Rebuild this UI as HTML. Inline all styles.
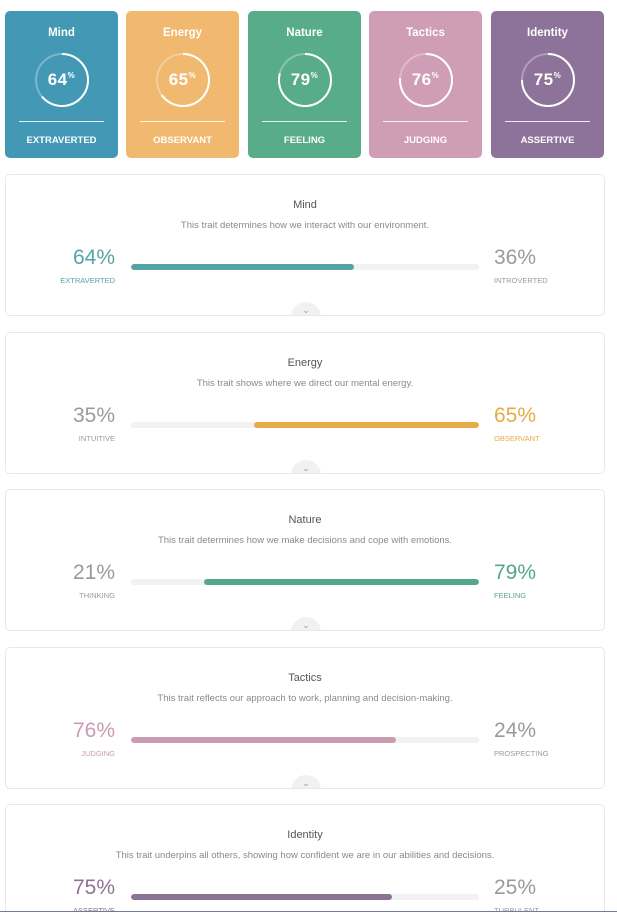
<!DOCTYPE html>
<html style="width:617px;height:916px;overflow:hidden"><head><meta charset="utf-8"><style>
*{margin:0;padding:0;box-sizing:border-box}
body{width:617px;height:916px;overflow:hidden;background:#fff;font-family:"Liberation Sans",sans-serif;position:relative}
.card{position:absolute;top:11px;width:113px;height:147px;border-radius:5px;color:#fff;text-align:center}
.card .t{position:absolute;top:16px;width:100%;font-size:11.5px;font-weight:bold}
.card svg{position:absolute;left:28px;top:40px}
.card .n{position:absolute;top:59px;width:100%;font-size:17px;font-weight:bold;letter-spacing:0.5px}
.card .n sup{font-size:8px;vertical-align:7px}
.card .ln{position:absolute;left:14px;right:14px;top:110px;height:1px;background:rgba(255,255,255,.85)}
.card .l{position:absolute;top:124px;width:100%;font-size:9.5px;font-weight:bold}
.p{position:absolute;left:5px;width:600px;height:142px;border:1px solid #e8e8e8;border-radius:5px;background:#fff;overflow:hidden}
.p .h{position:absolute;top:24px;width:100%;text-align:center;font-size:11px;color:#555}
.p .d{position:absolute;top:45px;width:100%;text-align:center;font-size:9.5px;color:#8a8a8a}
.pl,.pr{position:absolute;top:71px;font-size:21px;color:#9a9a9a;font-weight:300}
.pl{right:489px;text-align:right}.pr{left:488px}
.ll,.lr{position:absolute;top:101px;font-size:7.5px;color:#9a9a9a}
.ll{right:489px;text-align:right}.lr{left:488px}
.bar{position:absolute;left:125px;top:89px;width:348px;height:6px;background:#f2f2f2;border-radius:3px;overflow:hidden}
.bar i{position:absolute;top:0;height:6px;border-radius:3px}
.chev{position:absolute;left:285px;top:127px;width:30px;height:30px;border-radius:50%;background:#f1f1f1;text-align:center;font-size:9px;color:#999;padding-top:3px}
</style></head><body>

<div class="card" style="left:5px;background:#4298b5"><div class="t">Mind</div>
<svg width="58" height="58"><circle cx="29" cy="29" r="26" fill="none" stroke="rgba(255,255,255,.3)" stroke-width="2"/><circle cx="29" cy="29" r="26" fill="none" stroke="#fff" stroke-width="2" stroke-dasharray="104.5 200" transform="rotate(-90 29 29)"/></svg>
<div class="n">64<sup>%</sup></div><div class="ln"></div><div class="l">EXTRAVERTED</div></div>

<div class="card" style="left:126px;background:#f0b96f"><div class="t">Energy</div>
<svg width="58" height="58"><circle cx="29" cy="29" r="26" fill="none" stroke="rgba(255,255,255,.3)" stroke-width="2"/><circle cx="29" cy="29" r="26" fill="none" stroke="#fff" stroke-width="2" stroke-dasharray="106.2 200" transform="rotate(-90 29 29)"/></svg>
<div class="n">65<sup>%</sup></div><div class="ln"></div><div class="l">OBSERVANT</div></div>

<div class="card" style="left:248px;background:#58ac88"><div class="t">Nature</div>
<svg width="58" height="58"><circle cx="29" cy="29" r="26" fill="none" stroke="rgba(255,255,255,.3)" stroke-width="2"/><circle cx="29" cy="29" r="26" fill="none" stroke="#fff" stroke-width="2" stroke-dasharray="129 200" transform="rotate(-90 29 29)"/></svg>
<div class="n">79<sup>%</sup></div><div class="ln"></div><div class="l">FEELING</div></div>

<div class="card" style="left:369px;background:#cf9db5"><div class="t">Tactics</div>
<svg width="58" height="58"><circle cx="29" cy="29" r="26" fill="none" stroke="rgba(255,255,255,.3)" stroke-width="2"/><circle cx="29" cy="29" r="26" fill="none" stroke="#fff" stroke-width="2" stroke-dasharray="124.2 200" transform="rotate(-90 29 29)"/></svg>
<div class="n">76<sup>%</sup></div><div class="ln"></div><div class="l">JUDGING</div></div>

<div class="card" style="left:491px;background:#8d7399"><div class="t">Identity</div>
<svg width="58" height="58"><circle cx="29" cy="29" r="26" fill="none" stroke="rgba(255,255,255,.3)" stroke-width="2"/><circle cx="29" cy="29" r="26" fill="none" stroke="#fff" stroke-width="2" stroke-dasharray="122.5 200" transform="rotate(-90 29 29)"/></svg>
<div class="n">75<sup>%</sup></div><div class="ln"></div><div class="l">ASSERTIVE</div></div>

<div class="p" style="top:174px"><div class="h">Mind</div><div class="d">This trait determines how we interact with our environment.</div>
<div class="pl" style="color:#56a3a6">64%</div><div class="ll" style="color:#56a3a6">EXTRAVERTED</div>
<div class="bar"><i style="left:0;width:223px;background:#56a3a6"></i></div>
<div class="pr">36%</div><div class="lr">INTROVERTED</div><div class="chev">&#8964;</div></div>

<div class="p" style="top:332px"><div class="h">Energy</div><div class="d">This trait shows where we direct our mental energy.</div>
<div class="pl">35%</div><div class="ll">INTUITIVE</div>
<div class="bar"><i style="right:0;width:225px;background:#e4ab47"></i></div>
<div class="pr" style="color:#e4ab47">65%</div><div class="lr" style="color:#e4ab47">OBSERVANT</div><div class="chev">&#8964;</div></div>

<div class="p" style="top:489px"><div class="h">Nature</div><div class="d">This trait determines how we make decisions and cope with emotions.</div>
<div class="pl">21%</div><div class="ll">THINKING</div>
<div class="bar"><i style="right:0;width:275px;background:#55a78a"></i></div>
<div class="pr" style="color:#55a78a">79%</div><div class="lr" style="color:#55a78a">FEELING</div><div class="chev">&#8964;</div></div>

<div class="p" style="top:647px"><div class="h">Tactics</div><div class="d">This trait reflects our approach to work, planning and decision-making.</div>
<div class="pl" style="color:#c99cb1">76%</div><div class="ll" style="color:#c99cb1">JUDGING</div>
<div class="bar"><i style="left:0;width:265px;background:#c99cb1"></i></div>
<div class="pr">24%</div><div class="lr">PROSPECTING</div><div class="chev">&#8964;</div></div>

<div class="p" style="top:804px;height:107px;border-bottom:none;border-radius:5px 5px 0 0"><div class="h">Identity</div><div class="d">This trait underpins all others, showing how confident we are in our abilities and decisions.</div>
<div class="pl" style="color:#8c7394">75%</div><div class="ll" style="color:#8c7394">ASSERTIVE</div>
<div class="bar"><i style="left:0;width:261px;background:#8c7394"></i></div>
<div class="pr">25%</div><div class="lr">TURBULENT</div></div>

<div style="position:absolute;left:0;top:911px;width:617px;height:5px;background:#fff;border-top:1px solid #6b7f9a"></div>
</body></html>
